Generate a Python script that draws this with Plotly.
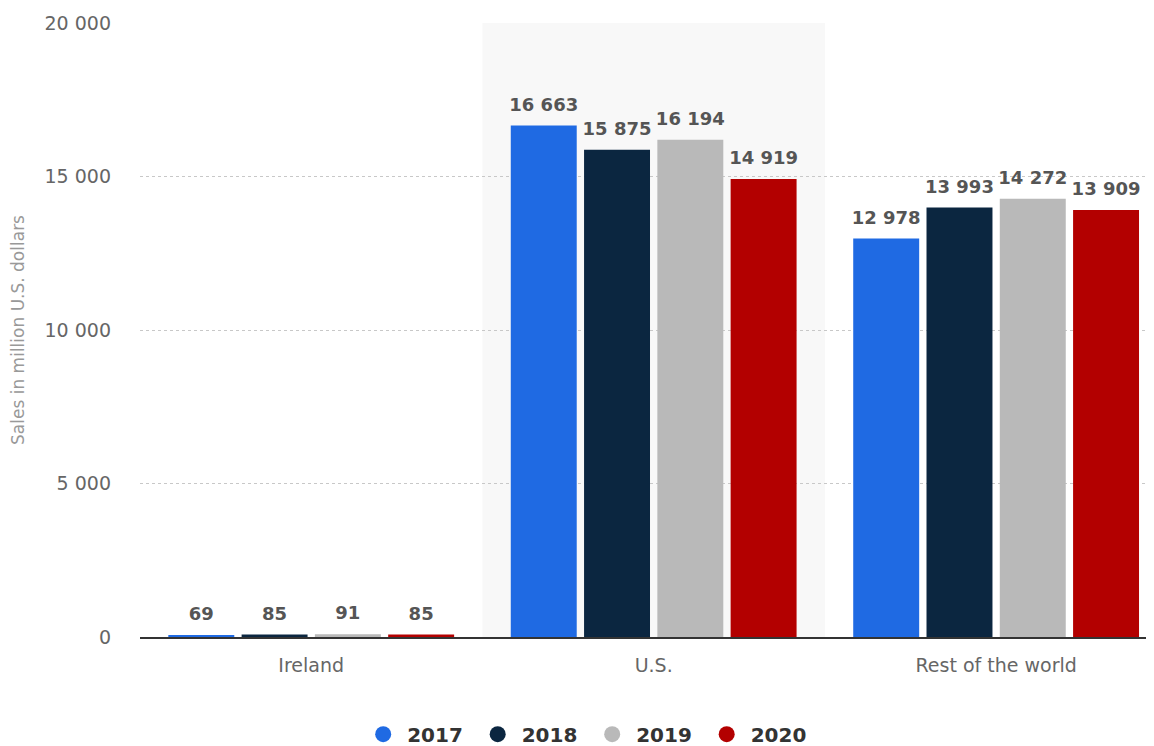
import plotly.graph_objects as go

categories = ["Ireland", "U.S.", "Rest of the world"]
years = ["2017", "2018", "2019", "2020"]
sales_2017 = [69, 16663, 12978]
sales_2018 = [85, 15875, 13993]
sales_2019 = [91, 16194, 14272]
sales_2020 = [85, 14919, 13909]
colors = ["#1f6ae3", "#0b2640", "#b9b9b9", "#b30000"]

series = [sales_2017, sales_2018, sales_2019, sales_2020]

fig = go.Figure()
for yr, vals, col in zip(years, series, colors):
    fig.add_trace(go.Bar(
        x=categories, y=vals, name=yr, marker=dict(color=col, line=dict(width=0)),
        offsetgroup=yr, showlegend=False, hoverinfo="skip",
    ))
for yr, vals in zip(years, series):
    fig.add_trace(go.Scatter(
        x=categories, y=vals, mode="markers+text", offsetgroup=yr,
        marker=dict(size=15, color="rgba(0,0,0,0)"),
        texttemplate="%{y:,}", textposition="top center", cliponaxis=False,
        textfont=dict(family="DejaVu Sans", size=18, color="#555555", weight="bold"),
        showlegend=False, hoverinfo="skip",
    ))
for yr, col in zip(years, colors):
    fig.add_trace(go.Scatter(
        x=[None], y=[None], mode="markers", name=yr, offsetgroup=yr,
        marker=dict(symbol="circle", size=20, color=col),
    ))

fig.add_shape(type="rect", xref="x", yref="paper", x0=0.5, x1=1.5, y0=0, y1=1,
              fillcolor="#f8f8f8", line=dict(width=0), layer="below")

fig.update_layout(
    width=1146, height=738,
    margin=dict(l=132, r=0, t=15, b=109, autoexpand=False),
    plot_bgcolor="white", paper_bgcolor="white",
    barmode="group", bargap=0.144, bargroupgap=0.1,
    scattermode="group", scattergap=0.144,
    separators=". ",
    font=dict(family="DejaVu Sans", color="#666666"),
    xaxis=dict(range=[-0.5, 2.461], showgrid=False, showline=True, linecolor="#333333",
               linewidth=2, ticks="", tickfont=dict(size=19, color="#666666"), type="category",
               ticklabelstandoff=10, automargin=False),
    yaxis=dict(range=[0, 20000], tickvals=[0, 5000, 10000, 15000, 20000], tickformat=",",
               showgrid=True, gridcolor="#c8c8c8", griddash="dot", gridwidth=1,
               zeroline=False, showline=False, ticklabelstandoff=28, automargin=False,
               tickfont=dict(size=19, color="#666666"),
               title=dict(text="Sales in million U.S. dollars", font=dict(size=17, color="#999999"), standoff=16)),
    legend=dict(orientation="h", x=0.442, xanchor="center", yref="container", y=0.016, yanchor="middle",
                font=dict(size=20, color="#333333", weight="bold"), itemwidth=38,
                entrywidth=61.5, entrywidthmode="pixels", traceorder="normal"),
)

fig.write_html("out.html")
